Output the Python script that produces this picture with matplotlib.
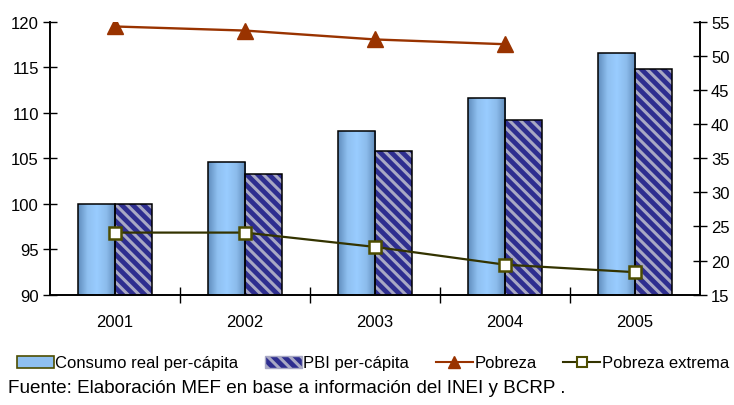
import matplotlib.pyplot as plt
import numpy as np
from matplotlib.colors import LinearSegmentedColormap
from matplotlib.lines import Line2D
from matplotlib.patches import Patch

years = ["2001", "2002", "2003", "2004", "2005"]
consumo = [100.0, 104.6, 108.0, 111.6, 116.6]
pbi = [100.0, 103.3, 105.8, 109.2, 114.8]
pobreza = [54.3, 53.7, 52.4, 51.7]
pobreza_extrema = [24.1, 24.1, 22.0, 19.4, 18.3]

plt.rcParams["font.family"] = ["Liberation Sans", "DejaVu Sans"]

fig = plt.figure(figsize=(7.34, 4.06), dpi=100)
ax = fig.add_axes([50 / 734, 1 - 295.7 / 406, 650 / 734, 273 / 406])
ax2 = ax.twinx()

x = np.arange(len(years))
w = 0.285
blue_grad = LinearSegmentedColormap.from_list(
    "bluegrad", ["#5f8cbc", "#8fc0f0", "#99ccff", "#8cbcec", "#5f8ab8"])

# consumo bars: gradient fill clipped to each bar
bars = ax.bar(x - w / 2, consumo, w, bottom=0, color="none", edgecolor="black",
              linewidth=1.1, zorder=3)
grad = np.linspace(0, 1, 256).reshape(1, -1)
for b in bars:
    x0, y0 = b.get_x(), b.get_y()
    im = ax.imshow(grad, cmap=blue_grad, aspect="auto", zorder=2,
                   extent=(x0, x0 + b.get_width(), 90, y0 + b.get_height()))
    im.set_clip_path(b)

# PBI bars: dark blue with grey diagonal stripes
plt.rcParams["hatch.linewidth"] = 2.2
ax.bar(x + w / 2, pbi, w, color="#2e2e8f", edgecolor="#a8a8c4", hatch="\\\\\\",
       linewidth=0, zorder=2)
ax.bar(x + w / 2, pbi, w, color="none", edgecolor="black", linewidth=1.1, zorder=3)

ax2.plot(x[:len(pobreza)], pobreza, color="#993300", lw=1.7, marker="^",
         ms=11, mfc="#993300", mec="#993300", zorder=5)
ax2.plot(x, pobreza_extrema, color="#333300", lw=1.6, marker="s", ms=8.5,
         mfc="white", mec="#4d4d00", mew=1.8, zorder=5)

ax.set_xlim(-0.5, len(years) - 0.5)
ax.set_ylim(90, 120)
ax.set_yticks(np.arange(90, 121, 5))
ax2.set_ylim(15, 55)
ax2.set_yticks(np.arange(15, 56, 5))

ax.set_xticks(x)
ax.set_xticklabels(years, fontsize=12)
ax.tick_params(axis="x", length=0, pad=14)
ax.set_xticks(np.arange(0.5, len(years) - 1, 1), minor=True)
ax.tick_params(axis="x", which="minor", direction="inout", length=12, width=1)
ax.tick_params(axis="y", direction="inout", length=10, width=1, labelsize=12, pad=3)
ax2.tick_params(axis="y", direction="inout", length=10, width=1, labelsize=12, pad=3)

for a in (ax, ax2):
    a.spines["top"].set_visible(False)
    for s in ("left", "right", "bottom"):
        a.spines[s].set_linewidth(1.2)

handles = [
    Patch(facecolor="#8fc0f0", edgecolor="#4d4d00", linewidth=1.2),
    Patch(facecolor="#2e2e8f", edgecolor="#a8a8c4", hatch="\\\\\\"),
    Line2D([], [], color="#993300", lw=1.5, marker="^", ms=9, mfc="#993300", mec="#993300"),
    Line2D([], [], color="#333300", lw=1.5, marker="s", ms=7, mfc="white", mec="#4d4d00", mew=1.5),
]
labels = ["Consumo real per-cápita", "PBI per-cápita", "Pobreza", "Pobreza extrema"]
fig.legend(handles, labels, loc="center", bbox_to_anchor=(0.508, 1 - 364 / 406),
           ncol=4, frameon=False, fontsize=12, handlelength=2.2, handleheight=0.7,
           handletextpad=0.1, columnspacing=1.6, borderaxespad=0)

fig.text(8 / 734, 1 - 389 / 406,
         "Fuente: Elaboración MEF en base a información del INEI y BCRP .",
         fontsize=13.6, va="center", ha="left")

fig.savefig("out.png", dpi=100)
